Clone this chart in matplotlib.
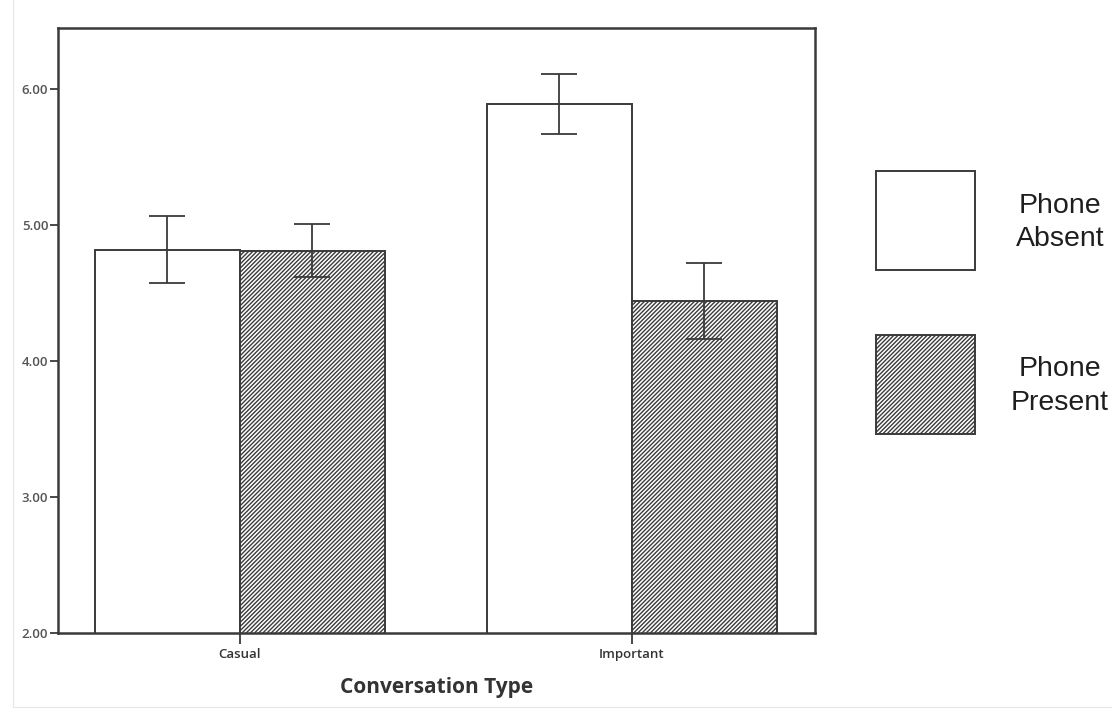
import numpy as np
import matplotlib.pyplot as plt
from matplotlib.patches import Rectangle

plt.rcParams['hatch.linewidth'] = 1.0
plt.rcParams['hatch.color'] = '#3a3a3a'

# Mean rating by conversation type and phone condition
conversation = ["Casual", "Important"]
absent_mean = [4.82, 5.89]
absent_err = [0.245, 0.22]
present_mean = [4.81, 4.44]
present_err = [0.195, 0.28]
groups = ["Phone\nAbsent", "Phone\nPresent"]
yticks = [2.0, 3.0, 4.0, 5.0, 6.0]

W, H = 1112, 708
fig = plt.figure(figsize=(W / 100, H / 100), dpi=100)
ax = fig.add_axes([58 / W, 1 - 633 / H, (815 - 58) / W, (633 - 28) / H])

x = np.arange(len(conversation))
w = 0.37
edge = '#3a3a3a'
hatch = '////////'

ax.bar(x - w / 2, absent_mean, w, bottom=0, color='white', edgecolor=edge,
       linewidth=1.4, zorder=2)
ax.bar(x + w / 2, present_mean, w, bottom=0, color='white', edgecolor=edge,
       linewidth=1.4, hatch=hatch, zorder=2)

ax.errorbar(x - w / 2, absent_mean, yerr=absent_err, fmt='none', ecolor=edge,
            elinewidth=1.3, capsize=13, capthick=1.3, zorder=3)
ax.errorbar(x + w / 2, present_mean, yerr=present_err, fmt='none', ecolor=edge,
            elinewidth=1.3, capsize=13, capthick=1.3, zorder=3)

ax.set_xlim(-0.464, 1.467)
ax.set_ylim(2.0, 6.45)
ax.set_yticks(yticks)
ax.set_yticklabels([f"{t:.2f}" for t in yticks], fontsize=9.5, color='#555555',
                   family='Open Sans', fontweight='semibold')
ax.set_xticks(x)
ax.set_xticklabels(conversation, fontsize=9.5, color='#333333',
                   family='Open Sans', fontweight='semibold')
ax.tick_params(axis='y', direction='out', length=6, width=1.3, color=edge, pad=1)
ax.tick_params(axis='x', direction='out', length=8, width=1.3, color=edge, pad=3)
ax.set_xlabel("Conversation Type", fontsize=15, fontweight='bold',
              color='#333333', family='Open Sans', labelpad=11)

for s in ax.spines.values():
    s.set_linewidth(1.8)
    s.set_color(edge)

# legend boxes and labels at the right
for (top, label, h) in [(171, groups[0], None), (335, groups[1], hatch)]:
    fig.add_artist(Rectangle((876 / W, 1 - (top + 99) / H), 99 / W, 99 / H,
                             transform=fig.transFigure, facecolor='white',
                             edgecolor=edge, linewidth=1.4, hatch=h))
    fig.text(1060 / W, 1 - (top + 51) / H, label, ha='center', va='center',
             multialignment='center', fontsize=20.5, family='Liberation Sans',
             color='#1e1e1e', linespacing=1.35)

# light border around the whole image
fig.add_artist(Rectangle((13 / W, 1 / H), 1.0, 1.2, transform=fig.transFigure,
                         fill=False, edgecolor='#e6e6e6', linewidth=0.8))

fig.savefig("out.png", dpi=100)
